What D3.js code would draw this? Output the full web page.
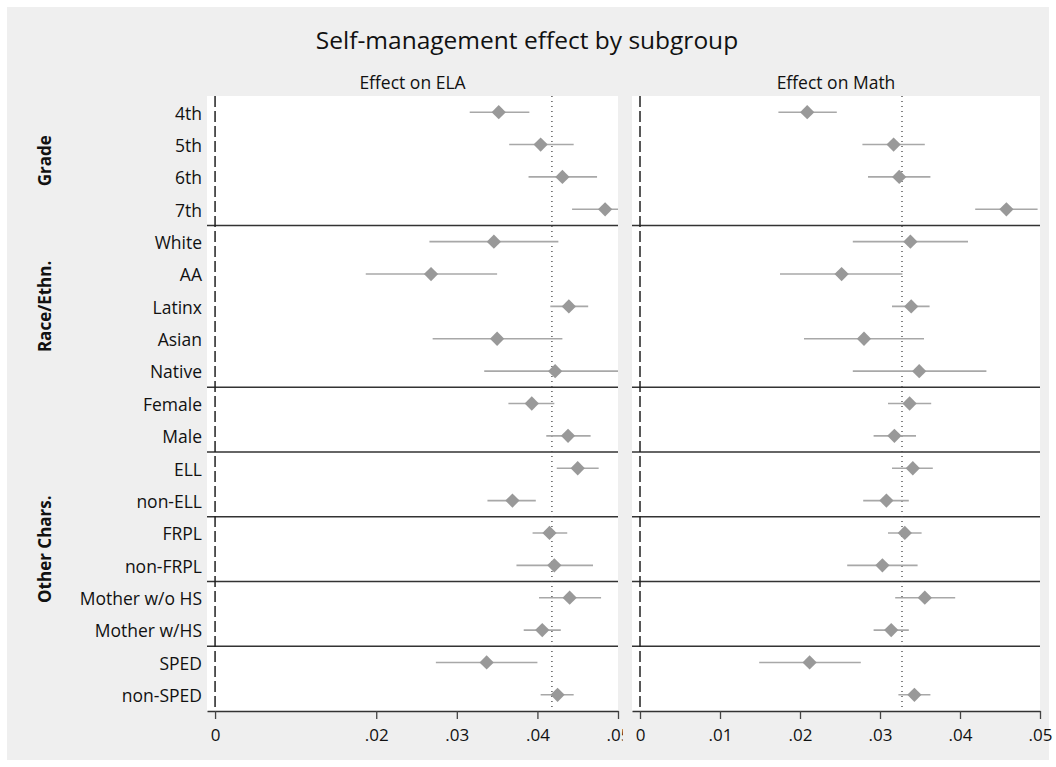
<!DOCTYPE html>
<html>
<head>
<meta charset="utf-8">
<script src="https://cdn.jsdelivr.net/npm/d3@7"></script>
<style>
  html, body { margin: 0; padding: 0; background: #fff; }
  text { font-family: "Open Sans", sans-serif; fill: #111; }
</style>
</head>
<body>
<script>
(function() {
  'use strict';

  // subgroup rows, top to bottom
  const categories = ['4th', '5th', '6th', '7th',
    'White', 'AA', 'Latinx', 'Asian', 'Native',
    'Female', 'Male', 'ELL', 'non-ELL', 'FRPL', 'non-FRPL',
    'Mother w/o HS', 'Mother w/HS', 'SPED', 'non-SPED'];

  // blocks separated by horizontal rules
  const blocks = [
    ['4th', '5th', '6th', '7th'],
    ['White', 'AA', 'Latinx', 'Asian', 'Native'],
    ['Female', 'Male'],
    ['ELL', 'non-ELL'],
    ['FRPL', 'non-FRPL'],
    ['Mother w/o HS', 'Mother w/HS'],
    ['SPED', 'non-SPED']
  ];

  // group labels on the far left
  const groupNames = ['Grade', 'Race/Ethn.', 'Other Chars.'];
  const groupFirst = ['4th', 'White', 'Female'];
  const groupLast = ['7th', 'Native', 'non-SPED'];

  // ELA estimates and confidence bounds
  const elaEst = [0.0352, 0.0404, 0.0431, 0.0484, 0.0346, 0.0268, 0.0439, 0.0350, 0.0422,
    0.0393, 0.0438, 0.0450, 0.0369, 0.0415, 0.0421, 0.0440, 0.0406, 0.0337, 0.0425];
  const elaLo = [0.0316, 0.0365, 0.0389, 0.0443, 0.0266, 0.0187, 0.0416, 0.0270, 0.0334,
    0.0364, 0.0411, 0.0424, 0.0338, 0.0394, 0.0374, 0.0402, 0.0383, 0.0274, 0.0404];
  const elaHi = [0.0390, 0.0445, 0.0474, 0.0525, 0.0426, 0.0350, 0.0463, 0.0431, 0.0510,
    0.0421, 0.0466, 0.0476, 0.0398, 0.0437, 0.0469, 0.0479, 0.0429, 0.0400, 0.0445];
  const elaMean = 0.0418;

  // Math estimates and confidence bounds
  const mathEst = [0.0209, 0.0317, 0.0324, 0.0458, 0.0338, 0.0252, 0.0339, 0.0280, 0.0349,
    0.0337, 0.0318, 0.0341, 0.0308, 0.0331, 0.0303, 0.0356, 0.0314, 0.0212, 0.0343];
  const mathLo = [0.0173, 0.0278, 0.0285, 0.0419, 0.0266, 0.0175, 0.0315, 0.0205, 0.0266,
    0.0310, 0.0292, 0.0315, 0.0279, 0.0310, 0.0259, 0.0319, 0.0292, 0.0149, 0.0323];
  const mathHi = [0.0246, 0.0356, 0.0363, 0.0497, 0.0410, 0.0328, 0.0362, 0.0355, 0.0433,
    0.0364, 0.0345, 0.0366, 0.0336, 0.0352, 0.0347, 0.0394, 0.0336, 0.0276, 0.0363];
  const mathMean = 0.03275;

  const elaTicks = [0, 0.02, 0.03, 0.04, 0.05];
  const mathTicks = [0, 0.01, 0.02, 0.03, 0.04, 0.05];

  const w = 1056;
  const h = 767;
  const top = 96;
  const bottom = 711;

  const svg = d3.select('body')
    .append('svg')
    .attr('width', w)
    .attr('height', h);

  // outer grey area
  svg.append('rect')
    .attr('x', 7).attr('y', 7)
    .attr('width', w - 14).attr('height', h - 14)
    .attr('fill', '#efefef');

  svg.append('text')
    .attr('x', 527).attr('y', 49)
    .attr('text-anchor', 'middle')
    .style('font-size', '24.5px')
    .text('Self-management effect by subgroup');

  const yScale = d3.scaleBand()
    .domain(categories)
    .range([top, bottom]);

  // row labels
  svg.append('g')
    .selectAll('text')
    .data(categories)
    .enter()
    .append('text')
    .attr('x', 202)
    .attr('y', (d) => yScale(d) + yScale.bandwidth() / 2)
    .attr('dy', '0.42em')
    .attr('text-anchor', 'end')
    .style('font-size', '17.5px')
    .text((d) => d);

  // group labels
  svg.append('g')
    .selectAll('text')
    .data(groupNames)
    .enter()
    .append('text')
    .attr('transform', (d, i) => {
      const mid = (yScale(groupFirst[i]) + yScale(groupLast[i]) + yScale.bandwidth()) / 2;
      return 'translate(45,' + mid + ') rotate(-90)';
    })
    .attr('dy', '0.35em')
    .attr('text-anchor', 'middle')
    .style('font-size', '17px')
    .style('font-weight', 'bold')
    .text((d) => d);

  function drawPanel(id, title, left, right, est, lo, hi, mean, ticks, labelRoom) {
    const xScale = d3.scaleLinear()
      .domain([-0.001, 0.05])
      .range([left, right]);

    const g = svg.append('g').attr('id', id);

    g.append('clipPath')
      .attr('id', id + '-clip')
      .append('rect')
      .attr('x', left).attr('y', top)
      .attr('width', right - left).attr('height', bottom - top);

    // axis clip, in the axis group's own coordinates
    g.append('clipPath')
      .attr('id', id + '-axclip')
      .append('rect')
      .attr('x', left - 20).attr('y', -3)
      .attr('width', right - left + 20 + labelRoom).attr('height', 50);

    g.append('rect')
      .attr('x', left).attr('y', top)
      .attr('width', right - left).attr('height', bottom - top)
      .attr('fill', '#fff');

    g.append('text')
      .attr('x', (left + right) / 2).attr('y', 89)
      .attr('text-anchor', 'middle')
      .style('font-size', '17.5px')
      .text(title);

    const plot = g.append('g').attr('clip-path', 'url(#' + id + '-clip)');

    // block separators
    plot.selectAll('line.sep')
      .data(blocks.slice(0, -1))
      .enter()
      .append('line')
      .attr('class', 'sep')
      .attr('x1', left).attr('x2', right)
      .attr('y1', (d) => yScale(d[d.length - 1]) + yScale.bandwidth())
      .attr('y2', (d) => yScale(d[d.length - 1]) + yScale.bandwidth())
      .attr('stroke', '#333')
      .attr('stroke-width', 1.6);

    // zero line
    plot.append('line')
      .attr('x1', xScale(0)).attr('x2', xScale(0))
      .attr('y1', top).attr('y2', bottom)
      .attr('stroke', '#222')
      .attr('stroke-width', 1.5)
      .attr('stroke-dasharray', '11,4');

    // overall effect line
    plot.append('line')
      .attr('x1', xScale(mean)).attr('x2', xScale(mean))
      .attr('y1', top).attr('y2', bottom)
      .attr('stroke', '#444')
      .attr('stroke-width', 1.3)
      .attr('stroke-dasharray', '1,4');

    // confidence intervals
    plot.selectAll('line.ci')
      .data(categories)
      .enter()
      .append('line')
      .attr('class', 'ci')
      .attr('x1', (d, i) => xScale(lo[i]))
      .attr('x2', (d, i) => xScale(hi[i]))
      .attr('y1', (d) => yScale(d) + yScale.bandwidth() / 2)
      .attr('y2', (d) => yScale(d) + yScale.bandwidth() / 2)
      .attr('stroke', '#a8a8a8')
      .attr('stroke-width', 1.6);

    // point estimates
    plot.selectAll('path.pt')
      .data(categories)
      .enter()
      .append('path')
      .attr('class', 'pt')
      .attr('d', d3.symbol().type(d3.symbolDiamond2).size(130))
      .attr('transform', (d, i) => 'translate(' + xScale(est[i]) + ',' +
        (yScale(d) + yScale.bandwidth() / 2) + ')')
      .attr('fill', '#999');

    const fmt = (d) => d === 0 ? '0' : d3.format('.2f')(d).replace(/^0/, '');
    const xAxis = d3.axisBottom(xScale)
      .tickValues(ticks)
      .tickFormat(fmt)
      .tickSize(8)
      .tickSizeOuter(0)
      .tickPadding(10);

    const ax = g.append('g')
      .attr('transform', 'translate(0,' + bottom + ')')
      .attr('clip-path', 'url(#' + id + '-axclip)')
      .call(xAxis);
    ax.select('.domain').attr('stroke', '#333').attr('stroke-width', 1.6);
    ax.selectAll('.tick line').attr('stroke', '#444').attr('stroke-width', 1.3);
    ax.selectAll('.tick text')
      .style('font-size', '17px')
      .style('font-family', '"Open Sans", sans-serif')
      .attr('fill', '#111');
  }

  drawPanel('ela', 'Effect on ELA', 207, 618, elaEst, elaLo, elaHi, elaMean, elaTicks, 5);
  drawPanel('math', 'Effect on Math', 632, 1040, mathEst, mathLo, mathHi, mathMean, mathTicks, 30);
}());
</script>
</body>
</html>
